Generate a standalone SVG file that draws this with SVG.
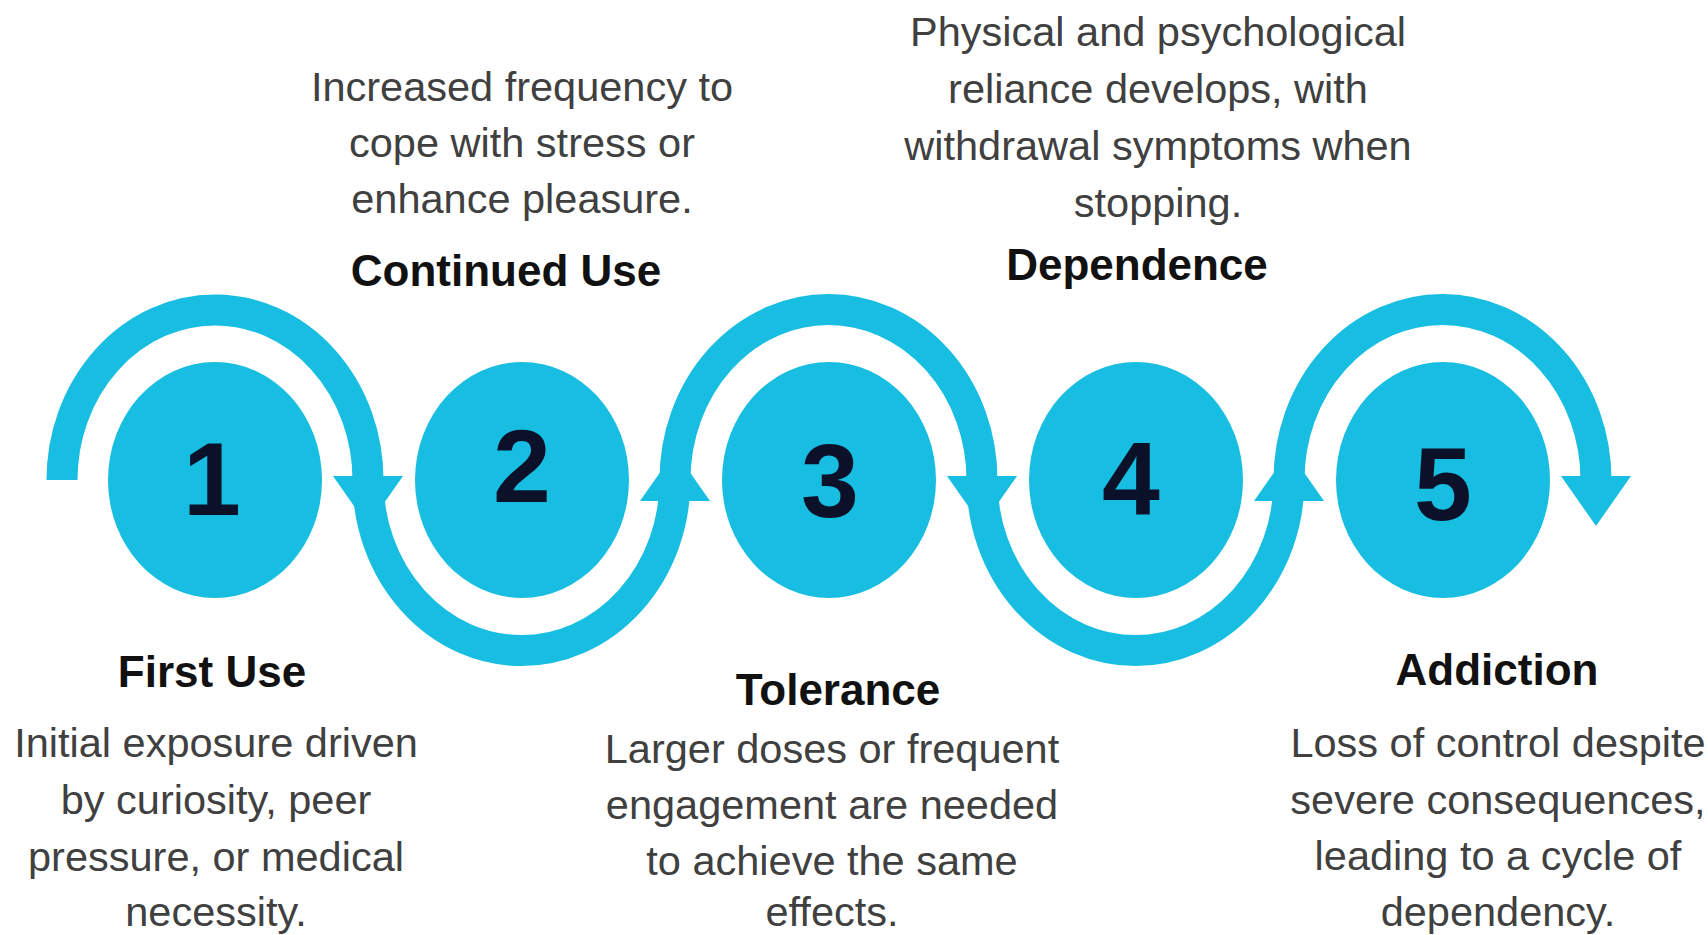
<svg xmlns="http://www.w3.org/2000/svg" width="1708" height="935" viewBox="0 0 1708 935">
  <style>
    .band { fill: none; stroke: #18BDE2; stroke-width: 31; stroke-linecap: butt; }
    .head { fill: #18BDE2; }
    .disc { fill: #18BDE2; }
    .num { font-family: "Liberation Sans", Arial, sans-serif; font-weight: bold; font-size: 104px; fill: #0A1128; text-anchor: middle; }
    .title { font-family: "Liberation Sans", Arial, sans-serif; font-weight: bold; font-size: 44px; fill: #111111; text-anchor: middle; }
    .desc { font-family: "Liberation Sans", Arial, sans-serif; font-size: 41.5px; fill: #404040; text-anchor: middle; }
  </style>
  <rect x="0" y="0" width="1708" height="935" fill="#FFFFFF"/>

  <g id="connectors">
    <path class="band" d="M 62 480 A 153 170 0 0 1 368 480"/>
    <path class="band" d="M 368 480 A 153 170 0 0 0 675 480"/>
    <path class="band" d="M 675 480 A 153 170 0 0 1 982 480"/>
    <path class="band" d="M 982 480 A 153 170 0 0 0 1289 480"/>
    <path class="band" d="M 1289 480 A 153 170 0 0 1 1596 480"/>
    <polygon class="head" points="333,476 403,476 368,526"/>
    <polygon class="head" points="640,501 710,501 675,451"/>
    <polygon class="head" points="947,476 1017,476 982,526"/>
    <polygon class="head" points="1254,501 1324,501 1289,451"/>
    <polygon class="head" points="1561,476 1631,476 1596,526"/>
  </g>

  <g id="step1">
    <ellipse class="disc" cx="215" cy="480" rx="107" ry="118"/>
    <text class="num" x="212" y="515">1</text>
    <text class="title" x="212" y="687">First Use</text>
    <text class="desc" x="216" y="757">Initial exposure driven</text>
    <text class="desc" x="216" y="814">by curiosity, peer</text>
    <text class="desc" x="216" y="871">pressure, or medical</text>
    <text class="desc" x="216" y="926">necessity.</text>
  </g>

  <g id="step2">
    <ellipse class="disc" cx="522" cy="480" rx="107" ry="118"/>
    <text class="num" x="522" y="502">2</text>
    <text class="title" x="506" y="286">Continued Use</text>
    <text class="desc" x="522" y="101">Increased frequency to</text>
    <text class="desc" x="522" y="157">cope with stress or</text>
    <text class="desc" x="522" y="213">enhance pleasure.</text>
  </g>

  <g id="step3">
    <ellipse class="disc" cx="829" cy="480" rx="107" ry="118"/>
    <text class="num" x="830" y="517">3</text>
    <text class="title" x="838" y="705">Tolerance</text>
    <text class="desc" x="832" y="763">Larger doses or frequent</text>
    <text class="desc" x="832" y="819">engagement are needed</text>
    <text class="desc" x="832" y="875">to achieve the same</text>
    <text class="desc" x="832" y="926">effects.</text>
  </g>

  <g id="step4">
    <ellipse class="disc" cx="1136" cy="480" rx="107" ry="118"/>
    <text class="num" x="1131" y="515">4</text>
    <text class="title" x="1137" y="280">Dependence</text>
    <text class="desc" x="1158" y="46">Physical and psychological</text>
    <text class="desc" x="1158" y="103">reliance develops, with</text>
    <text class="desc" x="1158" y="160">withdrawal symptoms when</text>
    <text class="desc" x="1158" y="217">stopping.</text>
  </g>

  <g id="step5">
    <ellipse class="disc" cx="1443" cy="480" rx="107" ry="118"/>
    <text class="num" x="1443" y="520">5</text>
    <text class="title" x="1497" y="685">Addiction</text>
    <text class="desc" x="1498" y="757">Loss of control despite</text>
    <text class="desc" x="1498" y="814">severe consequences,</text>
    <text class="desc" x="1498" y="870">leading to a cycle of</text>
    <text class="desc" x="1498" y="926">dependency.</text>
  </g>
</svg>
